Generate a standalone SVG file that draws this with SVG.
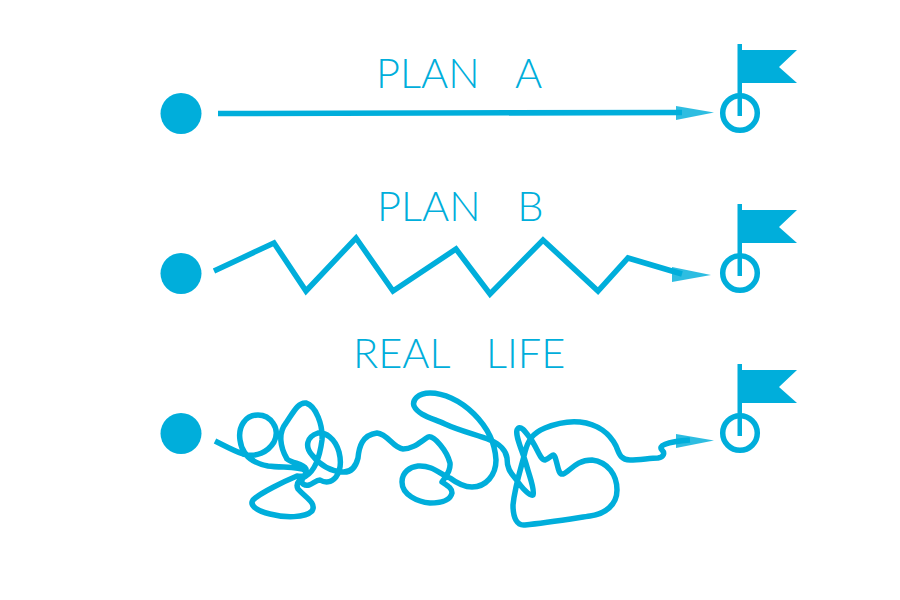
<svg xmlns="http://www.w3.org/2000/svg" width="900" height="600" viewBox="0 0 900 600">
<style>
.lab{font-family:"Lato","Liberation Sans",sans-serif;font-weight:300;font-size:41.500px;word-spacing:1px;fill:#00aedb;white-space:pre}
.dot{fill:#00aedb}
.ring{fill:none;stroke:#00aedb;stroke-width:5.5}
.pole{fill:#00aedb}
.line{fill:none;stroke:#00aedb;stroke-width:5.500;stroke-linejoin:miter}
.curl{fill:none;stroke:#00aedb;stroke-width:5.500;stroke-linejoin:round}
.head{fill:#00aedb;fill-opacity:.82}
</style>
<defs>
<g id="goal">
<circle class="ring" cx="740" cy="113" r="17.3"/>
<rect class="pole" x="737.5" y="44" width="4.5" height="72"/>
<polygon class="pole" points="742,50 797,50 779,67 797,83 742,83"/>
</g>
</defs>
<g id="connectors">
<path class="line" d="M218,113.500 L682,112.500"/>
<polygon class="head" points="676,106 714,112.500 676,120"/>
<path class="line" d="M214,271 L274,243 L306,291 L356,238 L393,291 L456,249 L490,294 L543,240 L598,291 L628,258 L682,274"/>
<polygon class="head" points="672,267 711,275 672,282"/>
<path class="curl" d="M215,441 C225,446 234,451 243,454 C256,458 268,452 274,442 C281,428 270,415 258,415 C245,415 238,427 240,440 C242,455 252,463 268,466 C282,468 300,466 306,471 C309,475 304,477 297,476 C285,481 260,493 253,500 C249,506 258,511 270,514 C285,518 305,518 312,511 C317,503 305,497 298,489 C295,483 300,479 306,476 C316,470 320,455 322,440 C323,425 316,406 306,403 C298,402 293,413 286,423 C278,433 280,447 287,459 C293,464 303,463 306,469 C307,474 303,477 302,480 C301,484 305,486 309,485 C313,484 316,480 320,480 C325,483 331,483 336,477 C341,470 341,460 339,452 C335,438 325,432 318,433 C306,437 305,447 312,455 C320,465 330,471 342,472 C352,473 356,466 358,458 C359,447 362,435 377,433 C388,434 393,448 403,449 C413,449 420,442 428,437 C434,435 447,451 450,463 C451,473 444,478 442,482 C448,486 452,488 452,493 C450,502 437,503 430,503 C418,502 402,495 402,482 C402,472 410,467 418,466 C433,465 441,475 450,478 C458,484 466,487 472,487 C486,487 496,475 496,460 C495,440 485,425 474,414 C460,400 443,393 430,393 C418,393 412,400 414,406 C418,415 432,418 445,424 C460,431 478,435 490,440 C500,444 506,451 507,458 C507,468 510,472 515,478 C522,488 530,497 533,495 C535,490 530,478 527,467 C523,452 515,436 517,430 C520,424 525,431 530,438 C537,447 540,460 545,460 C552,457 553,452 555,457 C558,465 558,475 563,474 C570,472 575,460 592,460 C608,462 617,475 617,490 C617,505 605,514 590,516 C570,519 545,523 525,525 C517,526 513,518 513,505 C515,485 522,465 525,452 C528,440 533,433 545,428 C557,423 570,421 580,422 C598,424 610,434 616,446 C619,453 620,460 630,460 C640,460 650,458 658,458 C664,457 665,453 662,450 C658,446 665,442 690,440"/>
<polygon class="head" points="676,434 714,440.500 676,448"/>
</g>
<g id="start-a"><circle class="dot" cx="181" cy="113.500" r="20.500"/></g>
<g id="start-b"><circle class="dot" cx="181" cy="273.500" r="20.500"/></g>
<g id="start-c"><circle class="dot" cx="181" cy="433.500" r="20.500"/></g>
<g id="goal-a"><use href="#goal"/></g>
<g id="goal-b"><use href="#goal" y="160"/></g>
<g id="goal-c"><use href="#goal" y="320"/></g>
<g id="label-a"><text class="lab" x="376" y="88">PLAN   A</text></g>
<g id="label-b"><text class="lab" x="377" y="221">PLAN   B</text></g>
<g id="label-c"><text class="lab" x="353" y="368">REAL   LIFE</text></g>
</svg>
